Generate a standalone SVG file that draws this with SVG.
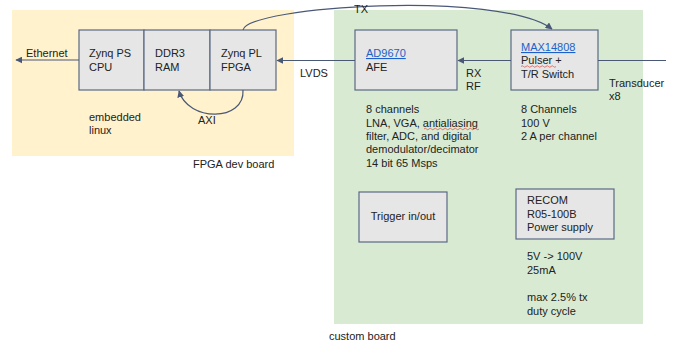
<svg xmlns="http://www.w3.org/2000/svg" width="675" height="343" viewBox="0 0 675 343">
<style>
.t{font-family:"Liberation Sans",Arial,sans-serif;font-size:11px;fill:#222}
.lnk{fill:#1a62c9;text-decoration:underline}
.box{fill:#e6e6e6;stroke:#5b6985;stroke-width:1.2}
.c{fill:none;stroke:#4a5878;stroke-width:1.2}
.sq{fill:none;stroke:#e0433a;stroke-width:0.7}
</style>
<defs>
<marker id="ah" viewBox="0 0 10 10" refX="9" refY="5" markerWidth="7" markerHeight="7" markerUnits="userSpaceOnUse" orient="auto">
<path d="M0,0 L10,5 L0,10 z" fill="#4a5878"/>
</marker>
</defs>
<g id="fpga-board">
<rect x="12" y="10" width="282" height="146" fill="#fff2cc"/>
<text class="t" x="193" y="168">FPGA dev board</text>
</g>
<g id="custom-board">
<rect x="334" y="10" width="309" height="314" fill="#d9ead3"/>
<text class="t" x="329" y="340">custom board</text>
</g>
<g id="zynq-ps">
<rect class="box" x="79" y="30" width="65" height="60"/>
<text class="t" x="89" y="57">Zynq PS</text>
<text class="t" x="89" y="71">CPU</text>
</g>
<g id="ddr3">
<rect class="box" x="144" y="30" width="66" height="60"/>
<text class="t" x="155" y="57">DDR3</text>
<text class="t" x="155" y="71">RAM</text>
</g>
<g id="zynq-pl">
<rect class="box" x="210" y="30" width="66" height="60"/>
<text class="t" x="221" y="57">Zynq PL</text>
<text class="t" x="221" y="71">FPGA</text>
</g>
<g id="embedded-linux">
<text class="t" x="89" y="121">embedded</text>
<text class="t" x="89" y="134">linux</text>
</g>
<g id="afe">
<rect class="box" x="355" y="30" width="102" height="60"/>
<text class="t lnk" x="366" y="57">AD9670</text>
<text class="t" x="366" y="71">AFE</text>
</g>
<g id="afe-desc">
<text class="t" x="366" y="113">8 channels</text>
<text class="t" x="366" y="126.5">LNA, VGA, antialiasing</text>
<path class="sq" d="M424 129 q1.25 -1.5 2.5 0 t2.5 0 t2.5 0 t2.5 0 t2.5 0 t2.5 0 t2.5 0 t2.5 0 t2.5 0 t2.5 0 t2.5 0 t2.5 0 t2.5 0 t2.5 0 t2.5 0 t2.5 0 t2.5 0 t2.5 0 t2.5 0 t2.5 0 t2.5 0 t2.5 0"/>
<text class="t" x="366" y="140">filter, ADC, and digital</text>
<text class="t" x="366" y="153">demodulator/decimator</text>
<text class="t" x="366" y="166.5">14 bit 65 Msps</text>
</g>
<g id="max14808">
<rect class="box" x="511" y="30" width="87" height="60"/>
<text class="t lnk" x="521" y="51">MAX14808</text>
<text class="t" x="521" y="64">Pulser +</text>
<path class="sq" d="M521 66.5 q1.25 -1.5 2.5 0 t2.5 0 t2.5 0 t2.5 0 t2.5 0 t2.5 0 t2.5 0 t2.5 0 t2.5 0 t2.5 0 t2.5 0 t2.5 0 t2.5 0 t2.5 0"/>
<text class="t" x="521" y="77.5">T/R Switch</text>
</g>
<g id="max-desc">
<text class="t" x="521" y="113">8 Channels</text>
<text class="t" x="521" y="126.5">100 V</text>
<text class="t" x="521" y="140">2 A per channel</text>
</g>
<g id="trigger">
<rect class="box" x="359" y="192" width="88" height="50"/>
<text class="t" x="403" y="220" text-anchor="middle">Trigger in/out</text>
</g>
<g id="recom">
<rect class="box" x="516" y="189" width="98" height="50"/>
<text class="t" x="527" y="204">RECOM</text>
<text class="t" x="527" y="217.5">R05-100B</text>
<text class="t" x="527" y="231">Power supply</text>
</g>
<g id="recom-desc">
<text class="t" x="527" y="260">5V -&gt; 100V</text>
<text class="t" x="527" y="273.5">25mA</text>
<text class="t" x="527" y="301">max 2.5% tx</text>
<text class="t" x="527" y="314.5">duty cycle</text>
</g>
<g id="connectors">
<path class="c" d="M79 60 L16 60" marker-end="url(#ah)"/>
<text class="t" x="26" y="57">Ethernet</text>
<path class="c" d="M355 60.5 L277 60.5" marker-end="url(#ah)"/>
<text class="t" x="300" y="77">LVDS</text>
<path class="c" d="M511 60.5 L458 60.5" marker-end="url(#ah)"/>
<text class="t" x="466" y="77">RX</text>
<text class="t" x="466" y="90">RF</text>
<path class="c" d="M666 60.5 L598 60.5"/>
<text class="t" x="609" y="87">Transducer</text>
<text class="t" x="609" y="100">x8</text>
<path class="c" d="M243 30 C248 6, 500 -10, 552 29" marker-end="url(#ah)"/>
<text class="t" x="354" y="13">TX</text>
<path class="c" d="M243 90 C245 122, 188 122, 179 91" marker-end="url(#ah)"/>
<text class="t" x="198" y="124">AXI</text>
</g>
</svg>
